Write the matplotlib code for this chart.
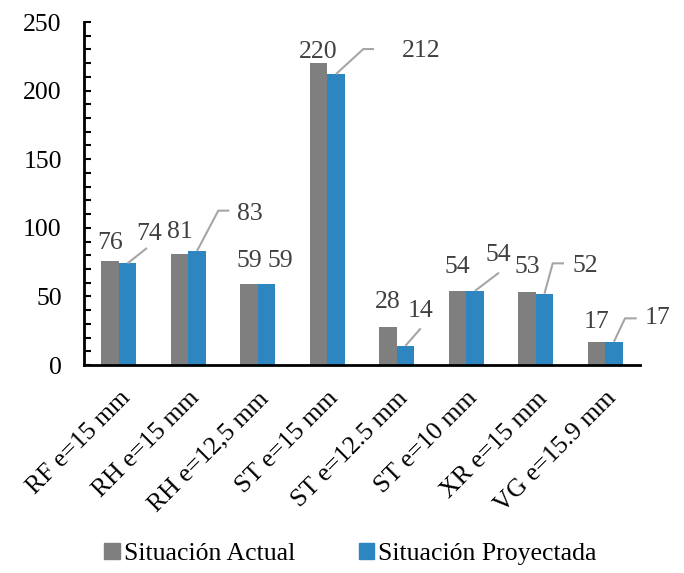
import matplotlib
matplotlib.use("Agg")
import matplotlib.pyplot as plt
from matplotlib.ticker import MultipleLocator
from matplotlib.patches import Patch
import numpy as np

plt.rcParams["font.family"] = ["Liberation Serif", "DejaVu Serif"]

# ---- data -------------------------------------------------------------
categories = ["RF e=15 mm", "RH e=15 mm", "RH e=12,5 mm", "ST e=15 mm",
              "ST e=12.5 mm", "ST e=10 mm", "XR e=15 mm", "VG e=15.9 mm"]
situacion_actual = [76, 81, 59, 220, 28, 54, 53, 17]
situacion_proyectada = [74, 83, 59, 212, 14, 54, 52, 17]
series_names = ["Situación Actual", "Situación Proyectada"]

# ---- label layout (data units) -----------------------------------------
# vertical offset of the grey-bar labels above their bar
actual_label_dy = [12.6, 16.2, 16.9, 8.5, 18.1, 17.6, 18.3, 14.6]
# centre of each blue-bar label
proj_label_xy = [(0.435, 95.5), (1.881, 110.4), (2.320, 75.9), (4.356, 229.0),
                 (4.349, 39.7), (5.467, 80.5), (6.709, 72.5), (7.759, 33.9)]
# leader-line vertices following the bar-top start point (None: no leader)
proj_leaders = [[(0.406, 85.3)],
                [(1.432, 112.5), (1.591, 112.5)],
                None,
                [(3.519, 230.3), (3.673, 230.3)],
                [(4.345, 26.7)],
                [(5.471, 67.3)],
                [(6.244, 74.1), (6.406, 74.1)],
                [(7.284, 34.0), (7.453, 34.0)]]

GREY = "#7F7F7F"
BLUE = "#2E86C1"
LABEL_COLOR = "#404040"
LEADER_COLOR = "#A6A6A6"

fig = plt.figure(figsize=(6.84, 5.73), dpi=100)
ax = fig.add_axes([0.1228, 0.363, 0.8129, 0.5986])

x = np.arange(len(categories))
w = 0.25
ax.bar(x - w / 2, situacion_actual, w, color=GREY, label=series_names[0])
ax.bar(x + w / 2, situacion_proyectada, w, color=BLUE, label=series_names[1])

# value labels
for i, v in enumerate(situacion_actual):
    ax.text(x[i] - w / 2, v + actual_label_dy[i], f"{v}", ha="center",
            va="center", fontsize=18.5, color=LABEL_COLOR)

for i, v in enumerate(situacion_proyectada):
    lx, ly = proj_label_xy[i]
    ax.text(lx, ly, f"{v}", ha="center", va="center", fontsize=18.5,
            color=LABEL_COLOR)
    if proj_leaders[i] is not None:
        pts = [(x[i] + w / 2, v)] + proj_leaders[i]
        xs, ys = zip(*pts)
        ax.plot(xs, ys, color=LEADER_COLOR, lw=1.5, solid_capstyle="butt",
                clip_on=False)

ax.set_xlim(-0.5, len(categories) - 0.5)
ax.set_ylim(0, 250)

for side in ("top", "right"):
    ax.spines[side].set_visible(False)
for side in ("left", "bottom"):
    ax.spines[side].set_linewidth(2)

ax.yaxis.set_major_locator(MultipleLocator(50))
ax.yaxis.set_minor_locator(MultipleLocator(10))
ax.tick_params(axis="y", which="both", direction="in", length=5, width=1.5,
               labelsize=18.5, pad=16)

ax.set_xticks(x)
ax.set_xticklabels(categories, rotation=45, ha="right",
                   rotation_mode="anchor", fontsize=18.5)
ax.tick_params(axis="x", length=0, pad=16)

handles = [Patch(color=GREY), Patch(color=BLUE)]
fig.legend(handles, series_names, loc="lower center",
           bbox_to_anchor=(0.5125, -0.004), ncol=2, frameon=False,
           fontsize=18.5, handlelength=0.6, handleheight=0.6,
           handletextpad=0.15, columnspacing=2.5, borderaxespad=0)

fig.savefig("out.png", dpi=100)
